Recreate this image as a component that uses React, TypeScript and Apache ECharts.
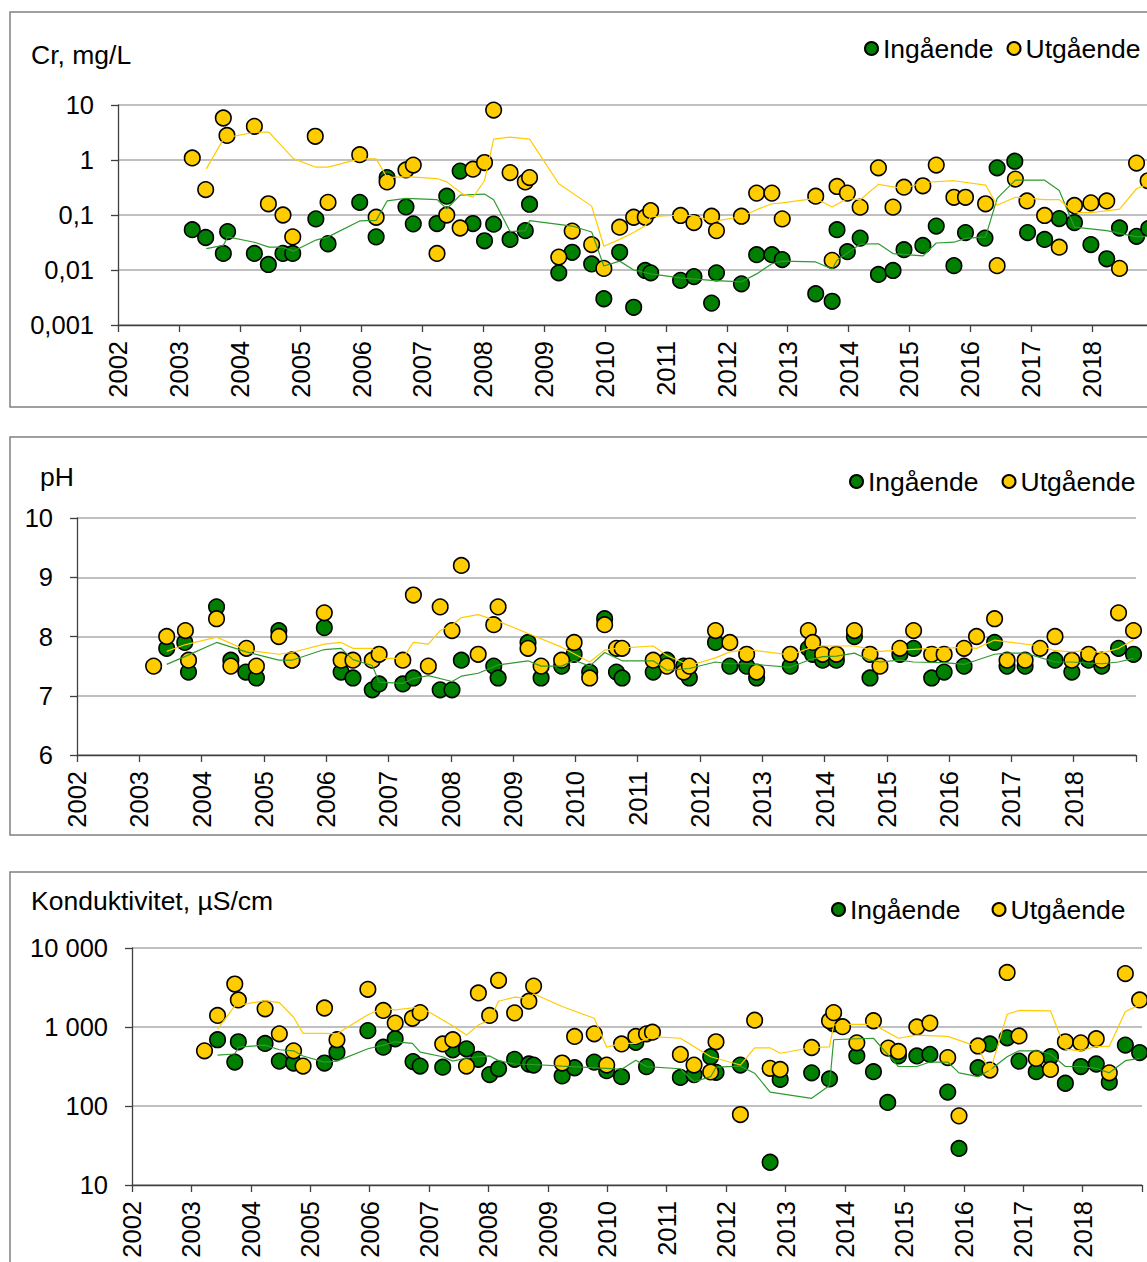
import React, { useEffect, useRef } from "react";
import * as echarts from "echarts";

// ---------- DATA (decimal year, value) ----------
const years = [2002, 2003, 2004, 2005, 2006, 2007, 2008, 2009, 2010, 2011, 2012, 2013, 2014, 2015, 2016, 2017, 2018];
const seriesNames = ["Ingående", "Utgående"];
const panelTitles = ["Cr, mg/L", "pH", "Konduktivitet, µS/cm"];

const crIn = [[2003.22,0.054],[2003.44,0.039],[2003.73,0.02],[2003.80,0.05],[2004.24,0.02],[2004.47,0.0126],[2004.71,0.02],[2004.87,0.02],[2005.25,0.085],[2005.45,0.03],[2005.97,0.17],[2006.24,0.04],[2006.42,0.48],[2006.73,0.14],[2006.85,0.069],[2007.24,0.07],[2007.40,0.22],[2007.62,0.63],[2007.83,0.07],[2008.02,0.034],[2008.17,0.068],[2008.44,0.036],[2008.69,0.052],[2008.76,0.157],[2009.24,0.0089],[2009.46,0.021],[2009.78,0.0129],[2009.98,0.003],[2010.24,0.021],[2010.47,0.0021],[2010.66,0.0098],[2010.75,0.0089],[2011.24,0.0065],[2011.46,0.0076],[2011.75,0.0025],[2011.83,0.0089],[2012.24,0.0056],[2012.49,0.019],[2012.74,0.019],[2012.91,0.0155],[2013.46,0.0037],[2013.73,0.0027],[2013.81,0.054],[2013.98,0.0215],[2014.19,0.038],[2014.49,0.0083],[2014.73,0.0098],[2014.91,0.0234],[2015.22,0.028],[2015.44,0.063],[2015.73,0.012],[2015.92,0.048],[2016.24,0.038],[2016.44,0.72],[2016.73,0.95],[2016.94,0.048],[2017.22,0.036],[2017.46,0.086],[2017.71,0.073],[2017.98,0.029],[2018.24,0.016],[2018.45,0.058],[2018.73,0.041],[2018.93,0.057]];
const crOut = [[2003.22,1.09],[2003.44,0.29],[2003.73,5.8],[2003.79,2.8],[2004.24,4.1],[2004.47,0.16],[2004.71,0.1],[2004.87,0.04],[2005.24,2.7],[2005.45,0.17],[2005.97,1.25],[2006.24,0.091],[2006.42,0.40],[2006.73,0.66],[2006.85,0.81],[2007.24,0.02],[2007.40,0.1],[2007.62,0.058],[2007.83,0.68],[2008.02,0.90],[2008.17,8.1],[2008.44,0.59],[2008.69,0.40],[2008.76,0.48],[2009.24,0.0172],[2009.46,0.051],[2009.78,0.029],[2009.98,0.0107],[2010.24,0.060],[2010.47,0.091],[2010.66,0.091],[2010.75,0.12],[2011.24,0.098],[2011.46,0.073],[2011.75,0.095],[2011.83,0.052],[2012.24,0.095],[2012.49,0.25],[2012.74,0.25],[2012.91,0.085],[2013.46,0.22],[2013.73,0.015],[2013.81,0.33],[2013.98,0.25],[2014.19,0.139],[2014.49,0.72],[2014.73,0.139],[2014.91,0.32],[2015.22,0.34],[2015.44,0.81],[2015.73,0.21],[2015.92,0.21],[2016.25,0.16],[2016.44,0.012],[2016.74,0.45],[2016.93,0.18],[2017.22,0.098],[2017.46,0.026],[2017.71,0.149],[2017.98,0.166],[2018.24,0.18],[2018.45,0.0107],[2018.73,0.88],[2018.92,0.42]];
const crInAvg = [[2003.45,0.0245],[2003.73,0.028],[2003.80,0.04],[2004.24,0.032],[2004.48,0.026],[2004.70,0.026],[2004.88,0.022],[2005.25,0.035],[2005.45,0.04],[2005.97,0.078],[2006.24,0.08],[2006.42,0.18],[2006.73,0.2],[2007.24,0.19],[2007.40,0.13],[2007.62,0.23],[2008.02,0.24],[2008.17,0.19],[2008.44,0.05],[2008.69,0.052],[2008.76,0.079],[2009.46,0.063],[2009.78,0.049],[2009.98,0.0118],[2010.24,0.0145],[2010.47,0.01],[2010.75,0.0085],[2011.24,0.0072],[2011.75,0.0065],[2012.24,0.0061],[2012.49,0.0085],[2012.74,0.013],[2012.91,0.0145],[2013.46,0.014],[2013.73,0.0104],[2013.81,0.015],[2014.19,0.0295],[2014.49,0.03],[2014.73,0.0199],[2015.22,0.018],[2015.44,0.031],[2015.73,0.032],[2015.92,0.0375],[2016.25,0.04],[2016.44,0.2],[2016.74,0.43],[2017.22,0.43],[2017.46,0.28],[2017.71,0.06],[2018.24,0.052],[2018.73,0.04],[2018.93,0.041]];
const crOutAvg = [[2003.45,0.69],[2003.74,2.5],[2004.24,3.2],[2004.48,3.2],[2004.70,1.75],[2004.88,1.06],[2005.25,0.74],[2005.45,0.74],[2005.97,1.05],[2006.24,1.05],[2006.42,0.48],[2006.73,0.5],[2007.24,0.46],[2007.40,0.40],[2007.65,0.245],[2007.83,0.21],[2008.02,0.42],[2008.17,2.4],[2008.44,2.6],[2008.76,2.4],[2009.24,0.37],[2009.78,0.145],[2009.98,0.027],[2010.24,0.036],[2010.47,0.048],[2010.66,0.064],[2010.75,0.093],[2011.24,0.1],[2011.46,0.097],[2011.75,0.078],[2011.83,0.078],[2012.24,0.093],[2012.49,0.125],[2012.74,0.16],[2012.91,0.166],[2013.46,0.2],[2013.73,0.14],[2013.98,0.2],[2014.19,0.19],[2014.49,0.36],[2014.91,0.30],[2015.22,0.39],[2015.73,0.42],[2016.25,0.35],[2016.44,0.15],[2016.74,0.21],[2017.22,0.19],[2017.46,0.19],[2017.71,0.11],[2017.98,0.11],[2018.45,0.128],[2018.73,0.30],[2018.92,0.37]];

const phIn = [[2003.44,7.8],[2003.73,7.9],[2003.79,7.4],[2004.24,8.5],[2004.47,7.6],[2004.71,7.4],[2004.88,7.3],[2005.24,8.1],[2005.45,7.6],[2005.97,8.15],[2006.24,7.4],[2006.43,7.3],[2006.74,7.1],[2006.85,7.2],[2007.23,7.2],[2007.40,7.3],[2007.83,7.1],[2008.02,7.1],[2008.17,7.6],[2008.69,7.5],[2008.76,7.3],[2009.24,7.9],[2009.45,7.3],[2009.78,7.5],[2009.98,7.7],[2010.23,7.4],[2010.47,8.3],[2010.66,7.4],[2010.75,7.3],[2011.25,7.4],[2011.47,7.6],[2011.74,7.5],[2011.83,7.3],[2012.25,7.9],[2012.48,7.5],[2012.75,7.5],[2012.91,7.3],[2013.45,7.5],[2013.74,7.8],[2013.81,7.7],[2013.97,7.6],[2014.19,7.6],[2014.48,8.0],[2014.73,7.3],[2015.21,7.7],[2015.43,7.8],[2015.72,7.3],[2015.92,7.4],[2016.24,7.5],[2016.73,7.9],[2016.93,7.5],[2017.22,7.5],[2017.70,7.6],[2017.97,7.4],[2018.24,7.6],[2018.45,7.5],[2018.72,7.8],[2018.96,7.7]];
const phOut = [[2003.23,7.5],[2003.44,8.0],[2003.74,8.1],[2003.79,7.6],[2004.24,8.3],[2004.47,7.5],[2004.72,7.8],[2004.88,7.5],[2005.24,8.0],[2005.45,7.6],[2005.97,8.4],[2006.24,7.6],[2006.43,7.6],[2006.74,7.6],[2006.85,7.7],[2007.23,7.6],[2007.40,8.7],[2007.64,7.5],[2007.83,8.5],[2008.02,8.1],[2008.17,9.2],[2008.44,7.7],[2008.69,8.2],[2008.76,8.5],[2009.24,7.8],[2009.45,7.5],[2009.78,7.6],[2009.98,7.9],[2010.23,7.3],[2010.47,8.2],[2010.66,7.8],[2010.75,7.8],[2011.25,7.6],[2011.47,7.5],[2011.74,7.4],[2011.83,7.5],[2012.25,8.1],[2012.48,7.9],[2012.75,7.7],[2012.91,7.4],[2013.45,7.7],[2013.74,8.1],[2013.81,7.9],[2013.97,7.7],[2014.19,7.7],[2014.48,8.1],[2014.73,7.7],[2014.89,7.5],[2015.21,7.8],[2015.43,8.1],[2015.72,7.7],[2015.92,7.7],[2016.24,7.8],[2016.44,8.0],[2016.73,8.3],[2016.93,7.6],[2017.22,7.6],[2017.46,7.8],[2017.70,8.0],[2017.97,7.6],[2018.24,7.7],[2018.45,7.6],[2018.72,8.4],[2018.96,8.1]];
const phInAvg = [[2003.44,7.53],[2003.73,7.66],[2004.24,7.90],[2004.72,7.74],[2005.24,7.60],[2005.45,7.60],[2005.97,7.78],[2006.24,7.80],[2006.43,7.61],[2006.74,7.51],[2006.85,7.23],[2007.23,7.21],[2007.40,7.29],[2007.64,7.34],[2008.02,7.24],[2008.17,7.33],[2008.44,7.38],[2008.76,7.52],[2009.24,7.59],[2009.45,7.5],[2009.78,7.5],[2009.98,7.6],[2010.23,7.5],[2010.47,7.73],[2010.75,7.59],[2011.25,7.59],[2011.47,7.43],[2011.83,7.46],[2012.25,7.57],[2012.48,7.54],[2012.75,7.54],[2013.45,7.48],[2013.74,7.6],[2013.97,7.66],[2014.19,7.67],[2014.48,7.72],[2014.73,7.6],[2014.89,7.57],[2015.21,7.6],[2015.43,7.57],[2015.92,7.56],[2016.24,7.53],[2016.44,7.6],[2016.73,7.70],[2016.93,7.72],[2017.22,7.72],[2017.70,7.57],[2017.97,7.57],[2018.45,7.54],[2018.72,7.57],[2018.96,7.63]];
const phOutAvg = [[2003.44,7.75],[2003.73,7.86],[2004.24,7.99],[2004.72,7.77],[2005.24,7.70],[2005.45,7.73],[2005.97,7.87],[2006.24,7.90],[2006.43,7.80],[2006.74,7.80],[2006.85,7.63],[2007.23,7.63],[2007.40,7.90],[2007.64,7.87],[2007.83,8.1],[2008.02,8.19],[2008.17,8.32],[2008.44,8.37],[2008.76,8.26],[2009.24,8.05],[2009.78,7.82],[2010.23,7.57],[2010.47,7.77],[2010.66,7.80],[2011.25,7.84],[2011.47,7.68],[2011.83,7.51],[2012.25,7.64],[2012.48,7.74],[2012.75,7.78],[2013.45,7.69],[2013.81,7.82],[2013.97,7.84],[2014.48,7.84],[2014.89,7.75],[2015.21,7.77],[2015.72,7.80],[2015.92,7.80],[2016.24,7.82],[2016.44,7.80],[2016.73,7.94],[2016.93,7.91],[2017.46,7.84],[2017.70,7.76],[2017.97,7.74],[2018.24,7.77],[2018.45,7.72],[2018.72,7.80],[2018.96,7.94]];

const condIn = [[2003.44,690],[2003.73,360],[2003.79,650],[2004.24,620],[2004.48,370],[2004.72,350],[2005.24,350],[2005.45,480],[2005.97,900],[2006.23,555],[2006.43,710],[2006.73,365],[2006.85,320],[2007.23,310],[2007.40,515],[2007.63,530],[2007.83,390],[2008.02,250],[2008.17,296],[2008.44,390],[2008.68,340],[2008.76,330],[2009.24,240],[2009.45,305],[2009.78,360],[2009.99,280],[2010.24,235],[2010.48,640],[2010.66,315],[2011.23,230],[2011.46,250],[2011.74,420],[2011.83,267],[2012.24,330],[2012.74,19.4],[2012.91,217],[2013.44,263],[2013.74,220],[2013.81,1100],[2014.20,430],[2014.48,272],[2014.72,111],[2014.90,430],[2015.21,430],[2015.43,450],[2015.73,150],[2015.92,29],[2016.24,305],[2016.44,610],[2016.73,730],[2016.93,370],[2017.22,272],[2017.46,420],[2017.71,194],[2017.97,316],[2018.23,340],[2018.45,200],[2018.72,590],[2018.96,475]];
const condOut = [[2003.22,500],[2003.44,1400],[2003.73,3500],[2003.79,2200],[2004.24,1700],[2004.48,820],[2004.72,500],[2004.88,320],[2005.24,1740],[2005.45,690],[2005.97,3000],[2006.23,1620],[2006.43,1120],[2006.72,1290],[2006.85,1520],[2007.23,610],[2007.40,690],[2007.63,320],[2007.83,2700],[2008.02,1400],[2008.17,3900],[2008.44,1510],[2008.68,2120],[2008.76,3300],[2009.24,350],[2009.45,760],[2009.78,820],[2009.99,330],[2010.24,610],[2010.48,760],[2010.66,820],[2010.76,860],[2011.23,450],[2011.46,330],[2011.74,270],[2011.83,650],[2012.24,78],[2012.48,1220],[2012.74,300],[2012.91,290],[2013.44,550],[2013.74,1200],[2013.81,1520],[2013.96,1010],[2014.20,630],[2014.48,1200],[2014.73,540],[2014.90,490],[2015.21,1000],[2015.43,1120],[2015.73,410],[2015.92,75],[2016.24,575],[2016.44,285],[2016.73,4900],[2016.93,770],[2017.22,400],[2017.46,290],[2017.71,650],[2017.97,630],[2018.23,710],[2018.45,263],[2018.72,4750],[2018.96,2200]];
const condInAvg = [[2003.44,440],[2003.73,455],[2003.79,555],[2004.24,590],[2004.48,515],[2004.72,500],[2004.88,430],[2005.24,360],[2005.45,370],[2005.97,530],[2006.23,590],[2006.43,650],[2006.72,620],[2006.85,480],[2007.23,420],[2007.40,370],[2007.63,405],[2007.83,420],[2008.02,430],[2008.17,375],[2008.44,340],[2008.76,335],[2009.24,320],[2009.99,300],[2010.24,292],[2010.48,380],[2010.66,315],[2011.23,296],[2011.46,203],[2011.74,235],[2011.83,310],[2012.24,320],[2012.48,260],[2012.74,150],[2013.44,125],[2013.74,182],[2013.81,690],[2013.96,700],[2014.48,720],[2014.90,316],[2015.21,316],[2015.43,360],[2015.73,360],[2015.92,263],[2016.24,235],[2016.44,285],[2016.73,420],[2016.93,500],[2017.22,500],[2017.46,455],[2017.71,316],[2017.97,316],[2018.23,300],[2018.45,263],[2018.72,375],[2018.96,400]];
const condOutAvg = [[2003.44,940],[2003.73,1850],[2004.24,2160],[2004.48,2040],[2004.72,1330],[2004.88,830],[2005.24,830],[2005.45,820],[2005.97,1430],[2006.23,1730],[2006.43,1650],[2006.85,1790],[2007.23,1230],[2007.40,1030],[2007.63,790],[2007.83,1060],[2008.02,1230],[2008.17,2120],[2008.44,2390],[2008.68,2300],[2008.76,2630],[2009.24,1820],[2009.78,1290],[2009.99,555],[2010.24,620],[2010.48,620],[2010.76,755],[2011.23,720],[2011.74,420],[2012.24,330],[2012.48,545],[2012.74,545],[2012.91,465],[2013.44,550],[2013.74,560],[2013.81,1060],[2013.96,1080],[2014.48,1080],[2014.90,720],[2015.21,790],[2015.73,760],[2016.24,560],[2016.44,270],[2016.73,1450],[2016.93,1620],[2017.46,1600],[2017.71,525],[2017.97,500],[2018.23,570],[2018.45,570],[2018.72,1570],[2018.96,1900]];

// ---------- STYLE ----------
const GREEN = "#008000";
const YELLOW = "#FFCC00";
const GREEN_LINE = "#2E9B2E";
const FONT = "'Liberation Sans', Arial, sans-serif";

function logLabel(v: number, sep: string, decimalComma: boolean) {
  const e = Math.round(Math.log10(v));
  if (e < 0) return "0" + (decimalComma ? "," : ".") + "0".repeat(-e - 1) + "1";
  const s = String(Math.round(Math.pow(10, e)));
  return s.replace(/\B(?=(\d{3})+(?!\d))/g, sep);
}

export default function App() {
  const ref = useRef<HTMLDivElement>(null);
  useEffect(() => {
    if (!ref.current) return;
    const chart = echarts.init(ref.current, null, { renderer: "svg" });
    const grids = [
      { left: 118, top: 105, width: 1035, height: 220 },
      { left: 77, top: 518, width: 1059, height: 237 },
      { left: 132, top: 948, width: 1010, height: 237 },
    ];
    const xAxis = grids.map((_, i) => ({
      type: "value",
      gridIndex: i,
      min: years[0],
      max: years[years.length - 1] + 1,
      interval: 1,
      axisLine: { show: true, onZero: false, lineStyle: { color: "#404040", width: 1.3 } },
      axisTick: { show: true, length: 7, lineStyle: { color: "#404040", width: 1.3 } },
      splitLine: { show: false },
      axisLabel: {
        rotate: 90,
        margin: 16,
        fontSize: 25.5,
        fontFamily: FONT,
        color: "#000",
        formatter: (v: number) => (years.includes(v) ? String(v) : ""),
      },
    }));
    const split = { show: true, lineStyle: { color: "#C0C0C0", width: 2.2 } };
    const yCommon = {
      axisLine: { show: true, lineStyle: { color: "#404040", width: 1.3 } },
      axisTick: { show: true, length: 7, lineStyle: { color: "#404040", width: 1.3 } },
      splitLine: split,
      minorTick: { show: false },
    };
    const yLabel = { margin: 24, fontSize: 25.5, fontFamily: FONT, color: "#000" };
    const yAxis = [
      {
        type: "log", logBase: 10, gridIndex: 0, min: 0.001, max: 10, ...yCommon,
        axisLabel: { ...yLabel, formatter: (v: number) => logLabel(v, " ", true) },
      },
      {
        type: "value", gridIndex: 1, min: 6, max: 10, interval: 1, ...yCommon,
        axisLabel: yLabel,
      },
      {
        type: "log", logBase: 10, gridIndex: 2, min: 10, max: 10000, ...yCommon,
        axisLabel: { ...yLabel, formatter: (v: number) => logLabel(v, " ", true) },
      },
    ];
    const panels = [
      [crIn, crOut, crInAvg, crOutAvg],
      [phIn, phOut, phInAvg, phOutAvg],
      [condIn, condOut, condInAvg, condOutAvg],
    ];
    const series: any[] = [];
    panels.forEach((p, i) => {
      series.push({
        type: "scatter", name: seriesNames[0], xAxisIndex: i, yAxisIndex: i, data: p[0],
        symbol: "circle", symbolSize: 15.5, z: 2,
        itemStyle: { color: GREEN, borderColor: "#000", borderWidth: 1.6, opacity: 1 },
      });
      series.push({
        type: "scatter", name: seriesNames[1], xAxisIndex: i, yAxisIndex: i, data: p[1],
        symbol: "circle", symbolSize: 15.5, z: 3,
        itemStyle: { color: YELLOW, borderColor: "#000", borderWidth: 1.6, opacity: 1 },
      });
      series.push({
        type: "line", name: seriesNames[0] + " medel", xAxisIndex: i, yAxisIndex: i, data: p[2],
        showSymbol: false, symbol: "none", z: 4,
        lineStyle: { color: GREEN_LINE, width: 1.2 },
      });
      series.push({
        type: "line", name: seriesNames[1] + " medel", xAxisIndex: i, yAxisIndex: i, data: p[3],
        showSymbol: false, symbol: "none", z: 4,
        lineStyle: { color: YELLOW, width: 1.2 },
      });
    });
    const legendPos = [
      { left: 864, top: 35, itemGap: 13 },
      { left: 849, top: 468, itemGap: 23 },
      { left: 831, top: 896, itemGap: 31 },
    ];
    const legend = legendPos.map((lp) => ({
      ...lp,
      padding: 0,
      data: seriesNames,
      icon: "circle",
      itemWidth: 13,
      itemHeight: 13,
      selectedMode: false,
      textStyle: { fontSize: 26.5, fontFamily: FONT, color: "#000", padding: [0, 0, 0, 0] },
    }));
    const frames = [
      { y: 12, h: 395 },
      { y: 437, h: 398 },
      { y: 872, h: 420 },
    ];
    const titlePos = [
      { x: 31, y: 55 },
      { x: 40, y: 477 },
      { x: 31, y: 901 },
    ];
    const graphic: any[] = [];
    frames.forEach((f) => {
      graphic.push({
        type: "rect", silent: true, z: -1,
        shape: { x: 10, y: f.y, width: 1180, height: f.h },
        style: { fill: "none", stroke: "#808080", lineWidth: 1.5 },
      });
    });
    titlePos.forEach((t, i) => {
      graphic.push({
        type: "text", silent: true, x: t.x, y: t.y,
        style: { text: panelTitles[i], font: `26.5px ${FONT}`, fill: "#000", textVerticalAlign: "middle", textAlign: "left" },
      });
    });
    chart.setOption({
      animation: false,
      backgroundColor: "#fff",
      grid: grids,
      xAxis,
      yAxis,
      legend,
      series,
      graphic,
    } as any);
    return () => chart.dispose();
  }, []);
  return (
    <div style={{ position: "absolute", left: 0, top: 0, width: 1147, height: 1262, overflow: "hidden", background: "#fff" }}>
      <div ref={ref} style={{ width: 1170, height: 1262 }} />
    </div>
  );
}
